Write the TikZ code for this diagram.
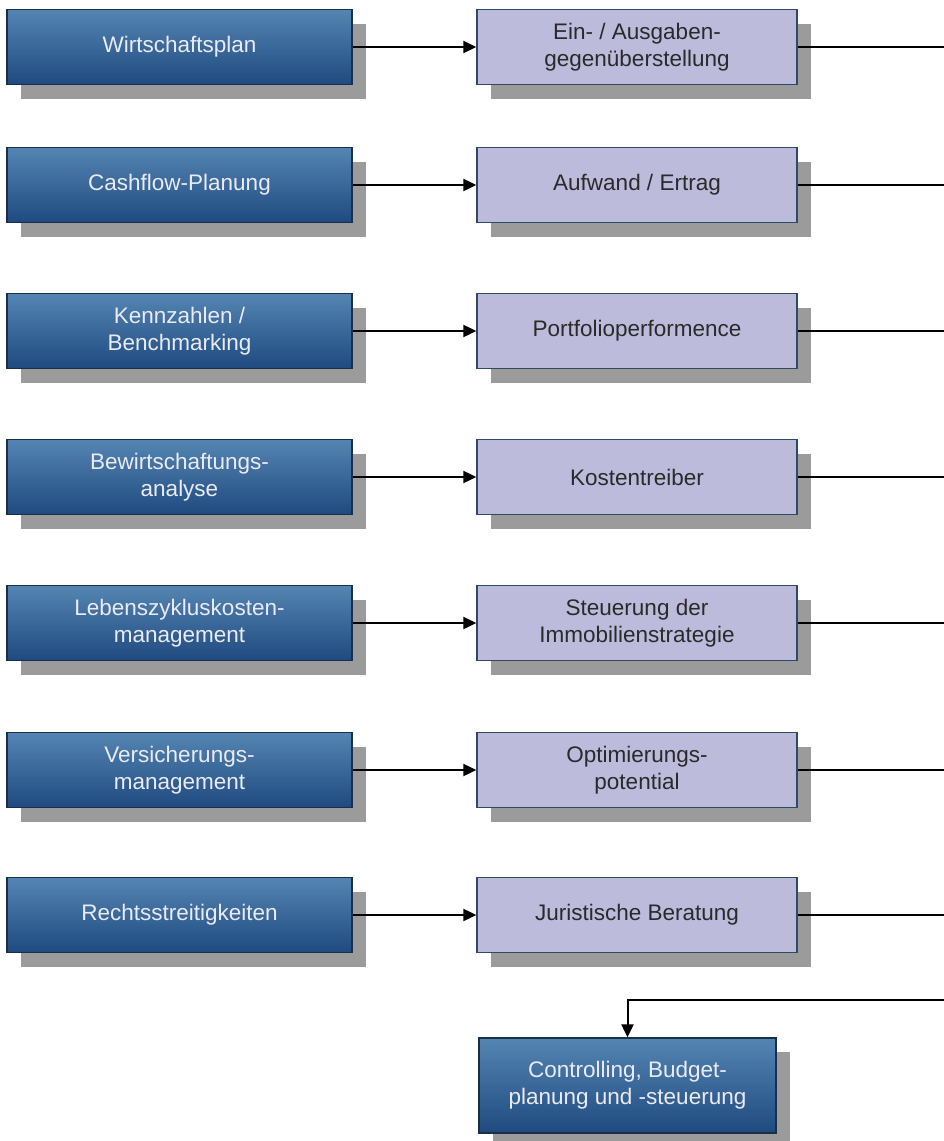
\documentclass[tikz,border=0pt]{standalone}
\usepackage{fontspec}
\setmainfont{Liberation Sans}
\usetikzlibrary{shadows,arrows.meta}
\definecolor{bluetop}{HTML}{5485B2}
\definecolor{bluebot}{HTML}{1F4A80}
\definecolor{blueborder}{HTML}{1C2F48}
\definecolor{lavfill}{HTML}{BDBBDB}
\definecolor{lavborder}{HTML}{2E4A66}
\definecolor{shadowgray}{HTML}{9B9B9B}
\definecolor{lighttext}{HTML}{EAEAF2}
\definecolor{darktext}{HTML}{2A2A2A}
\tikzset{
  boxbase/.style={rectangle, align=center, inner sep=0pt, line width=1.3pt,
    font=\fontsize{22.5}{27}\selectfont,
    drop shadow={shadow xshift=14pt, shadow yshift=-14pt, fill=shadowgray, opacity=1}},
  bluebox/.style={boxbase, draw=blueborder, top color=bluetop, bottom color=bluebot,
    text=lighttext, minimum width=345pt, minimum height=75pt},
  lavbox/.style={boxbase, draw=lavborder, fill=lavfill, text=darktext,
    minimum width=320pt, minimum height=75pt},
  arr/.style={line width=2pt, -{Triangle[length=13pt,width=12pt]}},
  ln/.style={line width=2pt, draw=black}
}
\begin{document}
\begin{tikzpicture}[x=1pt,y=-1pt]
\useasboundingbox (0,0) rectangle (944,1141);
\node[bluebox] (l1) at (179.5,47)  {Wirtschaftsplan};
\node[bluebox] (l2) at (179.5,185) {Cashflow-Planung};
\node[bluebox] (l3) at (179.5,331) {Kennzahlen /\\Benchmarking};
\node[bluebox] (l4) at (179.5,477) {Bewirtschaftungs-\\analyse};
\node[bluebox] (l5) at (179.5,623) {Lebenszykluskosten-\\management};
\node[bluebox] (l6) at (179.5,770) {Versicherungs-\\management};
\node[bluebox] (l7) at (179.5,915) {Rechtsstreitigkeiten};
\node[lavbox] (r1) at (637,47)  {Ein- / Ausgaben-\\gegenüberstellung};
\node[lavbox] (r2) at (637,185) {Aufwand / Ertrag};
\node[lavbox] (r3) at (637,331) {Portfolioperformence};
\node[lavbox] (r4) at (637,477) {Kostentreiber};
\node[lavbox] (r5) at (637,623) {Steuerung der\\Immobilienstrategie};
\node[lavbox] (r6) at (637,770) {Optimierungs-\\potential};
\node[lavbox] (r7) at (637,915) {Juristische Beratung};
\node[bluebox, minimum width=297pt, minimum height=95pt] (ctrl) at (627.5,1085.5)
  {Controlling, Budget-\\planung und -steuerung};
\foreach \i/\y in {1/47,2/185,3/331,4/477,5/623,6/770,7/915}{
  \coordinate (e\i) at (944,\y);
  \draw[arr] (l\i) -- (r\i);
  \draw[ln] (r\i.east) -- (e\i);
}
\coordinate (eb) at (944,1000);
\draw[arr] (eb) -| (ctrl.north);
\end{tikzpicture}
\end{document}
